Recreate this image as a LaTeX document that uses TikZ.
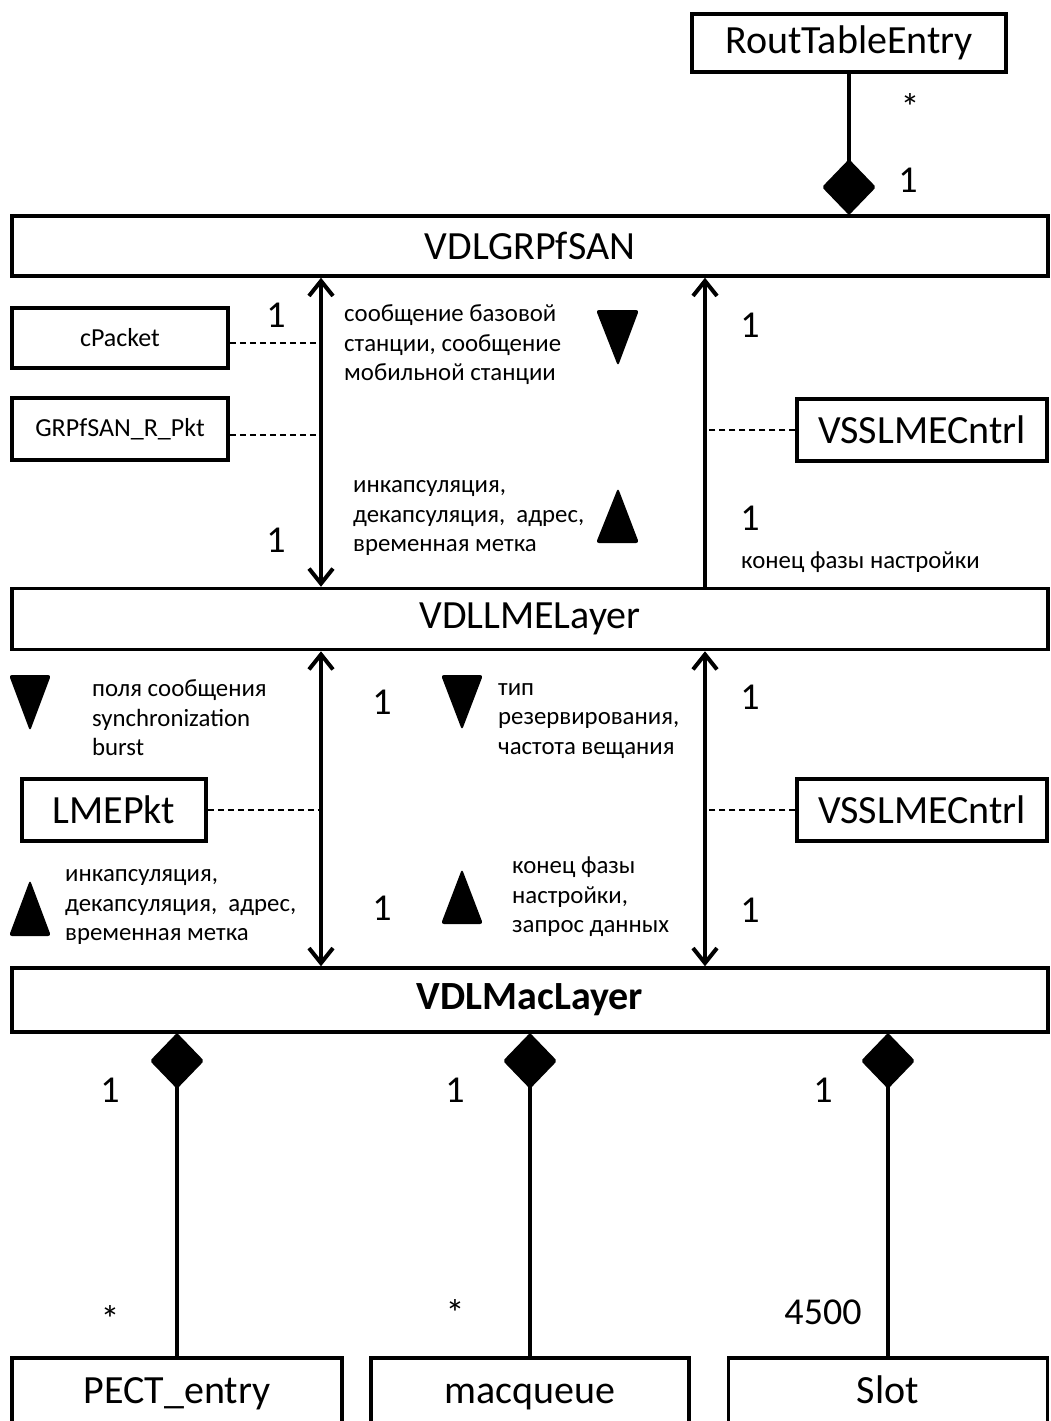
\documentclass[tikz,border=0pt]{standalone}
\usepackage{fontspec}
\setmainfont{Carlito}
\usetikzlibrary{arrows.meta}
\begin{document}
\begin{tikzpicture}[x=1pt,y=-1pt,
  cls/.style={draw, line width=3.5pt, inner sep=0pt, font=\fontsize{40}{48}\selectfont},
  smallcls/.style={cls, font=\fontsize{26}{31}\selectfont},
  partcls/.style={cls, minimum height=70pt, text height=28pt, text depth=8pt},
  note/.style={align=left, anchor=west, inner sep=0pt, font=\fontsize{24.8}{29.5}\selectfont},
  mult/.style={inner sep=0pt, font=\fontsize{38}{44}\selectfont},
  link/.style={line width=4pt},
  comp/.style={link, {Diamond[length=56pt,width=54pt,round]}-},
  barb/.tip={Straight Barb[length=15pt,width=24pt]},
  biarrow/.style={link, barb-barb},
  uparrow/.style={link, -barb},
  dep/.style={line width=1.6pt, dash pattern=on 6pt off 4pt},
  marker/.style={fill=black, rounded corners=3pt}
]
\useasboundingbox (0,0) rectangle (1050,1421);
\clip (0,0) rectangle (1050,1421);

% class boxes
\node[cls, minimum width=314pt, minimum height=58pt] (rte) at (849,43) {RoutTableEntry};
\node[cls, minimum width=1036pt, minimum height=60pt] (grp) at (530,246) {VDLGRPfSAN};
\node[smallcls, minimum width=216pt, minimum height=60pt] (cpk) at (120,338) {cPacket};
\node[smallcls, minimum width=216pt, minimum height=62pt] (grpk) at (120,429) {GRPfSAN\_R\_Pkt};
\node[cls, minimum width=250pt, minimum height=62pt] (vssa) at (922,430) {VSSLMECntrl};
\node[cls, minimum width=1036pt, minimum height=61pt] (lme) at (530,619) {VDLLMELayer};
\node[cls, minimum width=184pt, minimum height=62pt] (lmepkt) at (114,810) {LMEPkt};
\node[cls, minimum width=250pt, minimum height=62pt] (vssb) at (922,810) {VSSLMECntrl};
\node[cls, minimum width=1036pt, minimum height=64pt, font=\fontsize{40}{48}\selectfont\bfseries] (mac) at (530,1000) {VDLMacLayer};
\node[partcls, minimum width=330pt] (pect) at (177,1393) {PECT\_entry};
\node[partcls, minimum width=318pt] (mq) at (530,1393) {macqueue};
\node[partcls, minimum width=319pt] (slot) at (888,1393) {Slot};

% columns of the vertical links
\coordinate (xl) at (321,0);
\coordinate (xr) at (705,0);
% attachment points of the dashed dependencies
\coordinate (cpkr) at ([yshift=-5pt]cpk.east);
\coordinate (grpkr) at ([yshift=-6pt]grpk.east);

% compositions
\draw[comp] (rte.south |- grp.north) -- (rte.south);
\draw[comp] (pect.north |- mac.south) -- (pect.north);
\draw[comp] (mq.north |- mac.south) -- (mq.north);
\draw[comp] (slot.north |- mac.south) -- (slot.north);

% associations between layers
\draw[biarrow] (xl |- grp.south) -- (xl |- lme.north);
\draw[uparrow] (xr |- lme.north) -- (xr |- grp.south);
\draw[biarrow] (xl |- lme.south) -- (xl |- mac.north);
\draw[biarrow] (xr |- lme.south) -- (xr |- mac.north);

% dependencies
\draw[dep] (cpkr) -- (xl |- cpkr);
\draw[dep] (grpkr) -- (xl |- grpkr);
\draw[dep] (vssa.west) -- (xr |- vssa.west);
\draw[dep] (lmepkt.east) -- (xl |- lmepkt.east);
\draw[dep] (vssb.west) -- (xr |- vssb.west);

% multiplicities
\node[mult] (m1) at (910,107) {*};
\node[mult] (m2) at (908,180) {1};
\node[mult] (m3) at (276,315) {1};
\node[mult] (m4) at (276,540) {1};
\node[mult] (m5) at (750,325) {1};
\node[mult] (m6) at (750,518) {1};
\node[mult] (m7) at (382,702) {1};
\node[mult] (m8) at (382,908) {1};
\node[mult] (m9) at (750,697) {1};
\node[mult] (m10) at (750,910) {1};
\node[mult] (m11) at (110,1090) {1};
\node[mult] (m12) at (455,1090) {1};
\node[mult] (m13) at (823,1090) {1};
\node[mult] (m14) at (110,1319) {*};
\node[mult] (m15) at (455,1313) {*};
\node[mult] (m16) at (823,1312) {4500};

% message notes
\node[note] (n1) at (344,345) {сообщение базовой\\станции, сообщение\\мобильной станции};
\node[note] (n2) at (353,518) {инкапсуляция,\\декапсуляция,~ адрес,\\временная метка};
\node[note] (n3) at (741,562) {конец фазы настройки};
\node[note] (n4) at (92,718) {поля сообщения\\synchronization\\burst};
\node[note] (n5) at (65,907) {инкапсуляция,\\декапсуляция,~ адрес,\\временная метка};
\node[note] (n6) at (498,721) {тип\\резервирования,\\частота вещания};
\node[note] (n7) at (512,897) {конец фазы\\настройки,\\запрос данных};

% direction markers
\fill[marker] (596,310) -- (639,310) -- (618,366) -- cycle;
\fill[marker] (596,543) -- (639,543) -- (618,488) -- cycle;
\fill[marker] (9,675) -- (51,675) -- (30,731) -- cycle;
\fill[marker] (9,936) -- (51,936) -- (30,880) -- cycle;
\fill[marker] (441,675) -- (483,675) -- (462,730) -- cycle;
\fill[marker] (441,924) -- (483,924) -- (462,869) -- cycle;
\end{tikzpicture}
\end{document}
